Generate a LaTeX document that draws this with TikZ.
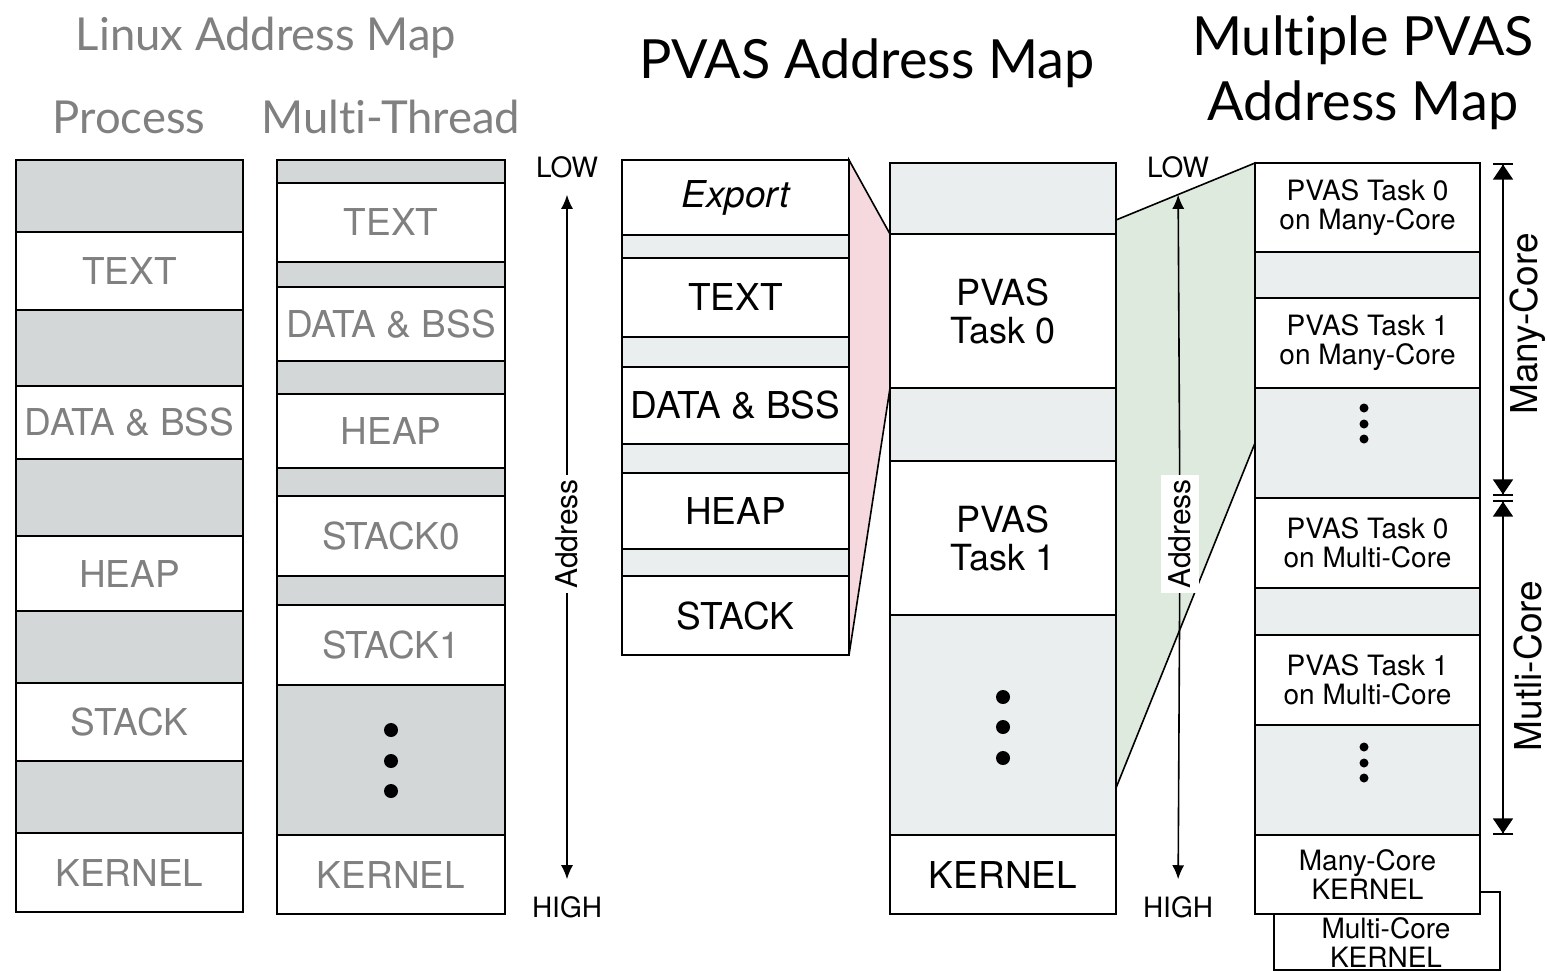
\documentclass[tikz,border=0pt]{standalone}
\usepackage{fontspec}
\setmainfont{TeX Gyre Heros}
\newfontfamily\titlefont[Ligatures=NoCommon]{Lato}
\usetikzlibrary{arrows.meta,backgrounds}
\definecolor{oldgray}{HTML}{D3D7D7}
\definecolor{oldtext}{HTML}{808080}
\definecolor{newgray}{HTML}{EBEEEE}
\definecolor{pinkmap}{HTML}{F5D9DF}
\definecolor{greenmap}{HTML}{DFEADE}
\newcommand{\segfont}[0]{\fontsize{18.5}{19}\selectfont}
\newcommand{\taskfont}[0]{\fontsize{18}{19}\selectfont}
\newcommand{\corefont}[0]{\fontsize{14}{14.5}\selectfont}
\newcommand{\addrfont}[0]{\fontsize{15}{16}\selectfont}
\newcommand{\oldtitlefont}[0]{\titlefont\fontsize{22.7}{26}\selectfont}
\newcommand{\newtitlefont}[0]{\titlefont\fontsize{27}{32.5}\selectfont}

\begin{document}
\begin{tikzpicture}[x=0.5pt, y=-0.5pt,
    seg/.style={draw, line width=1pt, inner sep=0pt, outer sep=0pt, fill=white, font=\segfont},
    oldseg/.style={seg, text=oldtext},
    oldgap/.style={seg, fill=oldgray},
    emptyseg/.style={seg, fill=newgray},
    taskseg/.style={seg, font=\taskfont, align=center},
    coreseg/.style={seg, font=\corefont, align=center},
    procw/.style={minimum width=113.5pt},
    thrw/.style={minimum width=114pt},
    pvasw/.style={minimum width=113pt},
    multw/.style={minimum width=112.5pt},
    addr/.style={rotate=90, fill=white, font=\addrfont, inner xsep=2pt, inner ysep=4pt},
    arr/.style={-{Latex[length=7pt,width=6pt]}, line width=0.8pt, shorten >=5pt},
    dim/.style={{Bar[width=10pt]Triangle[length=7.5pt,width=10pt]}-{Triangle[length=7.5pt,width=10pt]Bar[width=10pt]}, line width=0.8pt}]
    \useasboundingbox (0,0) rectangle (1547,971);

    % titles
    \node[font=\oldtitlefont, text=oldtext, anchor=base] (tLinux) at (266,50) {Linux Address Map};
    \node[font=\oldtitlefont, text=oldtext, anchor=base] (tProcess) at (129,133) {Process};
    \node[font=\oldtitlefont, text=oldtext, anchor=base] (tThread) at (391,133) {Multi-Thread};
    \node[font=\newtitlefont, anchor=base] (tPvas) at (867,78) {PVAS Address Map};
    \node[font=\newtitlefont, align=center] (tMulti) at (1363,73) {Multiple PVAS\\Address Map};

    % linux process
    \node[oldgap, procw, minimum height=36pt] (P0) at (129.5,196) {};
    \node[oldseg, procw, minimum height=39pt] (PText) at (129.5,271) {TEXT};
    \node[oldgap, procw, minimum height=38pt] (P1) at (129.5,348) {};
    \node[oldseg, procw, minimum height=36.5pt] (PData) at (129.5,422.5) {DATA \& BSS};
    \node[oldgap, procw, minimum height=38.5pt] (P2) at (129.5,497.5) {};
    \node[oldseg, procw, minimum height=37.5pt] (PHeap) at (129.5,573.5) {HEAP};
    \node[oldgap, procw, minimum height=36pt] (P3) at (129.5,647) {};
    \node[oldseg, procw, minimum height=39pt] (PStack) at (129.5,722) {STACK};
    \node[oldgap, procw, minimum height=36pt] (P4) at (129.5,797) {};
    \node[oldseg, procw, minimum height=39.5pt] (PKernel) at (129.5,872.5) {KERNEL};

    % linux multi-thread
    \node[oldgap, thrw, minimum height=11.5pt] (T0) at (391,171.5) {};
    \node[oldseg, thrw, minimum height=39.5pt] (TText) at (391,222.5) {TEXT};
    \node[oldgap, thrw, minimum height=12.5pt] (T1) at (391,274.5) {};
    \node[oldseg, thrw, minimum height=37pt] (TData) at (391,324) {DATA \& BSS};
    \node[oldgap, thrw, minimum height=16.5pt] (T2) at (391,377.5) {};
    \node[oldseg, thrw, minimum height=37pt] (THeap) at (391,431) {HEAP};
    \node[oldgap, thrw, minimum height=14pt] (T3) at (391,482) {};
    \node[oldseg, thrw, minimum height=40pt] (TStack0) at (391,536) {STACK0};
    \node[oldgap, thrw, minimum height=14.5pt] (T4) at (391,590.5) {};
    \node[oldseg, thrw, minimum height=40pt] (TStack1) at (391,645) {STACK1};
    \node[oldgap, thrw, minimum height=75pt] (T5) at (391,760) {};
    \node[oldseg, thrw, minimum height=39.5pt] (TKernel) at (391,874.5) {KERNEL};
    \fill (391,730) circle[radius=7] (391,761) circle[radius=7] (391,791) circle[radius=7];

    % pvas task
    \node[seg, procw, minimum height=37.5pt] (SExport) at (735.5,197.5) {\itshape Export};
    \node[emptyseg, procw, minimum height=11.5pt] (S0) at (735.5,246.5) {};
    \node[seg, procw, minimum height=39.5pt] (SText) at (735.5,297.5) {TEXT};
    \node[emptyseg, procw, minimum height=15pt] (S1) at (735.5,352) {};
    \node[seg, procw, minimum height=38.5pt] (SData) at (735.5,405.5) {DATA \& BSS};
    \node[emptyseg, procw, minimum height=14.5pt] (S2) at (735.5,458.5) {};
    \node[seg, procw, minimum height=38pt] (SHeap) at (735.5,511) {HEAP};
    \node[emptyseg, procw, minimum height=13.5pt] (S3) at (735.5,562.5) {};
    \node[seg, procw, minimum height=39.5pt] (SStack) at (735.5,615.5) {STACK};

    % pvas address map
    \node[emptyseg, pvasw, minimum height=35.5pt] (V0) at (1003,198.5) {};
    \node[taskseg, pvasw, minimum height=77pt] (VTask0) at (1003,311) {PVAS\\Task 0};
    \node[emptyseg, pvasw, minimum height=36.5pt] (V1) at (1003,424.5) {};
    \node[taskseg, pvasw, minimum height=77pt] (VTask1) at (1003,538) {PVAS\\Task 1};
    \node[emptyseg, pvasw, minimum height=110pt] (V2) at (1003,725) {};
    \node[seg, pvasw, minimum height=39.5pt] (VKernel) at (1003,874.5) {KERNEL};
    \fill (1003,697) circle[radius=7] (1003,727) circle[radius=7] (1003,758) circle[radius=7];

    % multiple pvas
    \node[seg, pvasw, minimum height=39pt] (UKernel) at (1387,931) {};
    \node[font=\corefont, align=center] (UKernelTxt) at (1386,943) {Multi-Core\\KERNEL};
    \node[coreseg, multw, minimum height=44.5pt] (MTask0) at (1367.5,207.5) {PVAS Task 0\\on Many-Core};
    \node[emptyseg, multw, minimum height=23pt] (M0) at (1367.5,275) {};
    \node[coreseg, multw, minimum height=45pt] (MTask1) at (1367.5,343) {PVAS Task 1\\on Many-Core};
    \node[emptyseg, multw, minimum height=55pt] (M1) at (1367.5,443) {};
    \node[coreseg, multw, minimum height=45pt] (UTask0) at (1367.5,543) {PVAS Task 0\\on Multi-Core};
    \node[emptyseg, multw, minimum height=23.5pt] (U0) at (1367.5,611.5) {};
    \node[coreseg, multw, minimum height=45pt] (UTask1) at (1367.5,680) {PVAS Task 1\\on Multi-Core};
    \node[emptyseg, multw, minimum height=55pt] (U1) at (1367.5,780) {};
    \node[coreseg, multw, minimum height=39.5pt] (MKernel) at (1367.5,874.5) {Many-Core\\KERNEL};
    \fill (1364,408) circle[radius=4.5] (1364,424) circle[radius=4.5] (1364,439) circle[radius=4.5];
    \fill (1364,747) circle[radius=4.5] (1364,763) circle[radius=4.5] (1364,778) circle[radius=4.5];

    % mappings
    \coordinate (gTop) at (1116,220);
    \coordinate (gBot) at (1116,788);
    \begin{scope}[on background layer]
    \draw[line width=0.8pt, fill=pinkmap] (SExport.north east) -- (VTask0.north west) -- (VTask0.south west) -- (SStack.south east) -- cycle;
    \draw[line width=0.8pt, fill=greenmap] (gTop) -- (MTask0.north west) -- (M1.west) -- (gBot) -- cycle;
    \end{scope}

    % address arrows
    \node[font=\corefont] (lowL) at (567,167) {LOW};
    \node[font=\corefont] (highL) at (567,907) {HIGH};
    \node[addr] (addrL) at (567,534) {Address};
    \draw[arr] (addrL) -- (lowL);
    \draw[arr] (addrL) -- (highL);
    \node[font=\corefont] (lowR) at (1178,167) {LOW};
    \node[font=\corefont] (highR) at (1178,907) {HIGH};
    \node[addr] (addrR) at (1180,534) {Address};
    \draw[arr] (addrR) -- (lowR);
    \draw[arr] (addrR) -- (highR);

    % core ranges
    \draw[dim] ([xshift=11.5pt]MTask0.north east) -- ([xshift=11.5pt,yshift=1pt]M1.south east);
    \draw[dim] ([xshift=11.5pt,yshift=-1pt]UTask0.north east) -- ([xshift=11.5pt]U1.south east);
    \node[rotate=90, font=\segfont] (lMany) at (1528,324) {Many-Core};
    \node[rotate=90, font=\segfont] (lMulti) at (1528,666) {Mutli-Core};
\end{tikzpicture}
\end{document}
